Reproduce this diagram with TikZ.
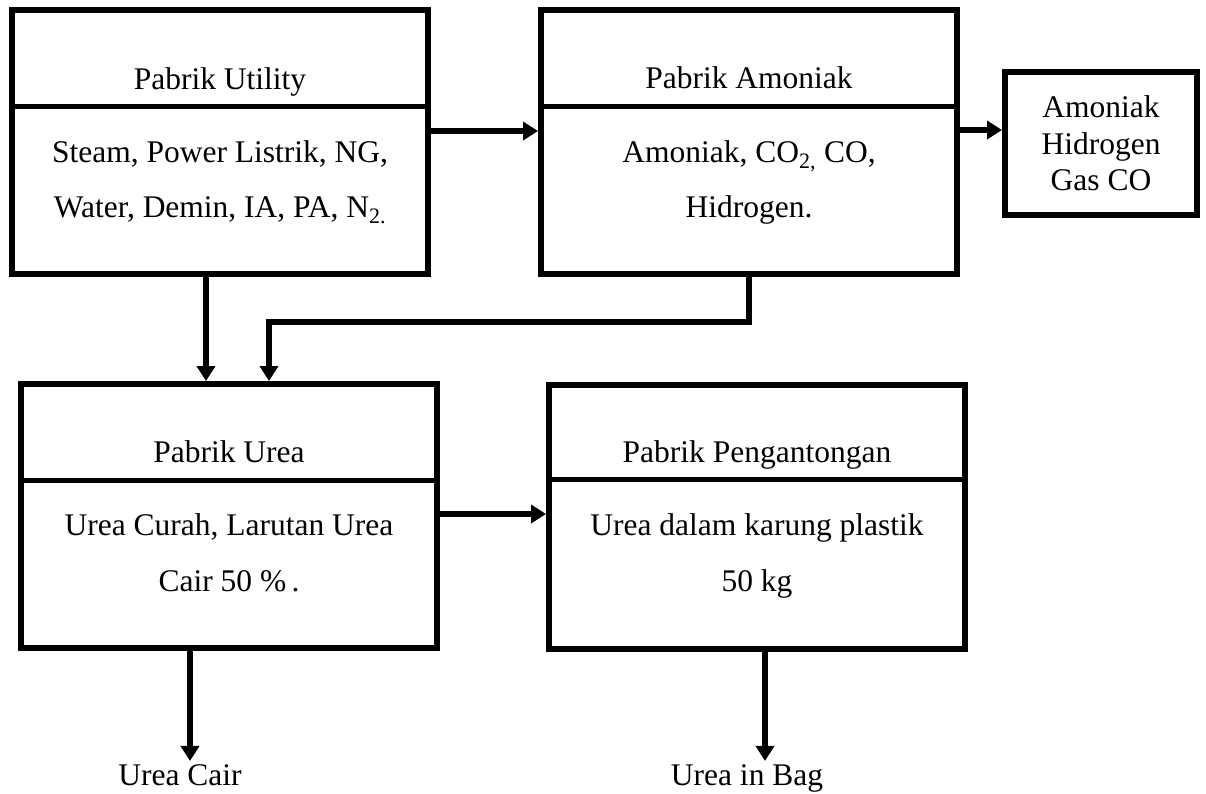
\documentclass[tikz,border=0pt]{standalone}
\usepackage{fontspec}
\setmainfont{Liberation Serif}
\usetikzlibrary{arrows.meta}

\begin{document}
\begin{tikzpicture}[x=1pt, y=-1pt,
  every node/.style={font=\fontsize{31.5}{36.5}\selectfont, inner sep=0pt},
  plant/.style={draw, line width=6pt, minimum width=416pt, minimum height=264pt},
  txt/.style={anchor=base},
  sep/.style={line width=5pt},
  flow/.style={line width=5.5pt, -{Triangle[length=15pt,width=18pt]}}]
  \useasboundingbox (0,0) rectangle (1206,793);

  \node[plant] (util) at (220,142) {};
  \node[plant] (amon) at (749,142) {};
  \node[plant] (urea) at (229,516) {};
  \node[plant] (peng) at (757,517) {};
  \node[draw, line width=6pt, minimum width=192pt, minimum height=143pt, align=center]
    (prod) at (1101,143.5) {Amoniak\\Hidrogen\\Gas CO};

  \draw[sep] (util.west |- 0,106) -- (util.east |- 0,106);
  \draw[sep] (amon.west |- 0,106) -- (amon.east |- 0,106);
  \draw[sep] (urea.west |- 0,480) -- (urea.east |- 0,480);
  \draw[sep] (peng.west |- 0,479) -- (peng.east |- 0,479);

  \node[txt] (utilT) at (220,89) {Pabrik Utility};
  \node[txt] (utilA) at (220,162) {Steam, Power Listrik, NG,};
  \node[txt] (utilB) at (220,217) {Water, Demin, IA, PA, N\textsubscript{2.}};

  \node[txt] (amonT) at (749,88) {Pabrik Amoniak};
  \node[txt] (amonA) at (749,162) {Amoniak, CO\textsubscript{2,} CO,};
  \node[txt] (amonB) at (749,217) {Hidrogen.};

  \node[txt] (ureaT) at (229,462) {Pabrik Urea};
  \node[txt] (ureaA) at (229,535) {Urea Curah, Larutan Urea};
  \node[txt] (ureaB) at (229,591) {Cair 50 \%\,.};

  \node[txt] (pengT) at (757,462) {Pabrik Pengantongan};
  \node[txt] (pengA) at (757,535) {Urea dalam karung plastik};
  \node[txt] (pengB) at (757,591) {50 kg};

  \node[txt] (cair) at (180,785) {Urea Cair};
  \node[txt] (bag) at (747,785) {Urea in Bag};

  \draw[flow] ([yshift=11pt]util.east) -- ([yshift=11pt]util.east -| amon.west);
  \draw[flow] ([yshift=12pt]amon.east) -- ([yshift=12pt]amon.east -| prod.west);
  \draw[flow] ([xshift=-14pt]util.south) -- ([xshift=-14pt]util.south |- urea.north);
  \draw[flow] (amon.south) -- (amon.south |- 0,322) -| ([xshift=40pt]urea.north);
  \draw[flow] ([yshift=2pt]urea.east) -- ([yshift=2pt]urea.east -| peng.west);
  \draw[flow, shorten >=3pt] ([xshift=-39pt]urea.south) -- ([xshift=-39pt]urea.south |- cair.north);
  \draw[flow, shorten >=3pt] ([xshift=8pt]peng.south) -- ([xshift=8pt]peng.south |- bag.north);
\end{tikzpicture}
\end{document}
